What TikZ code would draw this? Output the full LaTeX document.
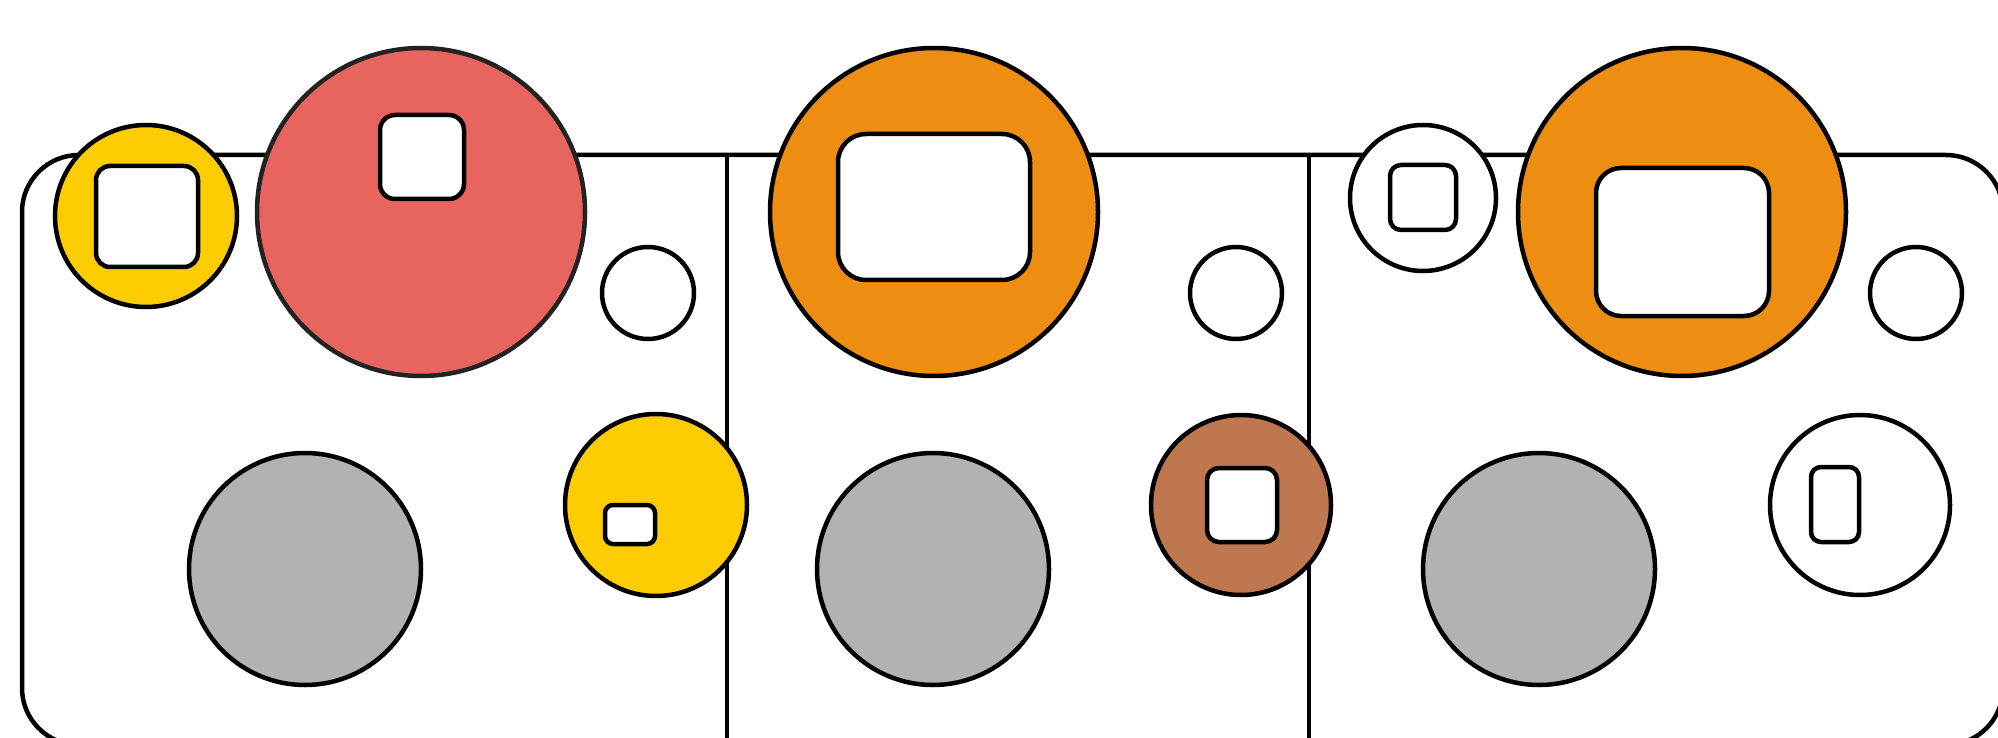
\documentclass[tikz,border=0pt]{standalone}
\definecolor{cyellow}{HTML}{FECC02}
\definecolor{cred}{HTML}{E8655F}
\definecolor{corange}{HTML}{ED8D12}
\definecolor{cbrown}{HTML}{BE774F}
\definecolor{cgray}{HTML}{B2B2B2}
\definecolor{cdark}{HTML}{222222}
\tikzset{
  outline/.style={draw=black, line width=4.5pt},
  disc/.style={draw=black, line width=4.5pt},
  window/.style={draw=black, fill=white, line width=4.5pt},
}
\begin{document}
\begin{tikzpicture}[x=1pt,y=-1pt]
\useasboundingbox (0,0) rectangle (1998,738);
% frame
\draw[outline, rounded corners=57pt] (22,155) rectangle (2003,745);
\draw[outline] (727,155) -- (727,745);
\draw[outline] (1309,155) -- (1309,745);
% top row
\filldraw[disc, fill=cyellow] (146,216) circle[radius=91];
\draw[window, rounded corners=14pt] (96,166) rectangle (198,267);
\filldraw[disc, draw=cdark, fill=cred] (421,212) circle[radius=164];
\draw[window, rounded corners=15pt] (380,115) rectangle (464,199);
\filldraw[disc, fill=white] (648,293) circle[radius=46];
\filldraw[disc, fill=corange] (934,212) circle[radius=164];
\draw[window, rounded corners=28pt] (838,134) rectangle (1030,280);
\filldraw[disc, fill=white] (1236,293) circle[radius=46];
\filldraw[disc, fill=white] (1423,198) circle[radius=73];
\draw[window, rounded corners=11pt] (1390,165) rectangle (1456,230);
\filldraw[disc, fill=corange] (1682,212) circle[radius=164];
\draw[window, rounded corners=25pt] (1596,168) rectangle (1769,316);
\filldraw[disc, fill=white] (1916,293) circle[radius=46];
% bottom row
\filldraw[disc, fill=cgray] (305,569) circle[radius=116];
\filldraw[disc, fill=cyellow] (656,505) circle[radius=91];
\draw[window, rounded corners=8pt] (605,505) rectangle (655,544);
\filldraw[disc, fill=cgray] (933,569) circle[radius=116];
\filldraw[disc, fill=cbrown] (1241,505) circle[radius=90];
\draw[window, rounded corners=12pt] (1207,468) rectangle (1277,542);
\filldraw[disc, fill=cgray] (1539,569) circle[radius=116];
\filldraw[disc, fill=white] (1860,505) circle[radius=90];
\draw[window, rounded corners=10pt] (1811,467) rectangle (1859,542);
\end{tikzpicture}
\end{document}
